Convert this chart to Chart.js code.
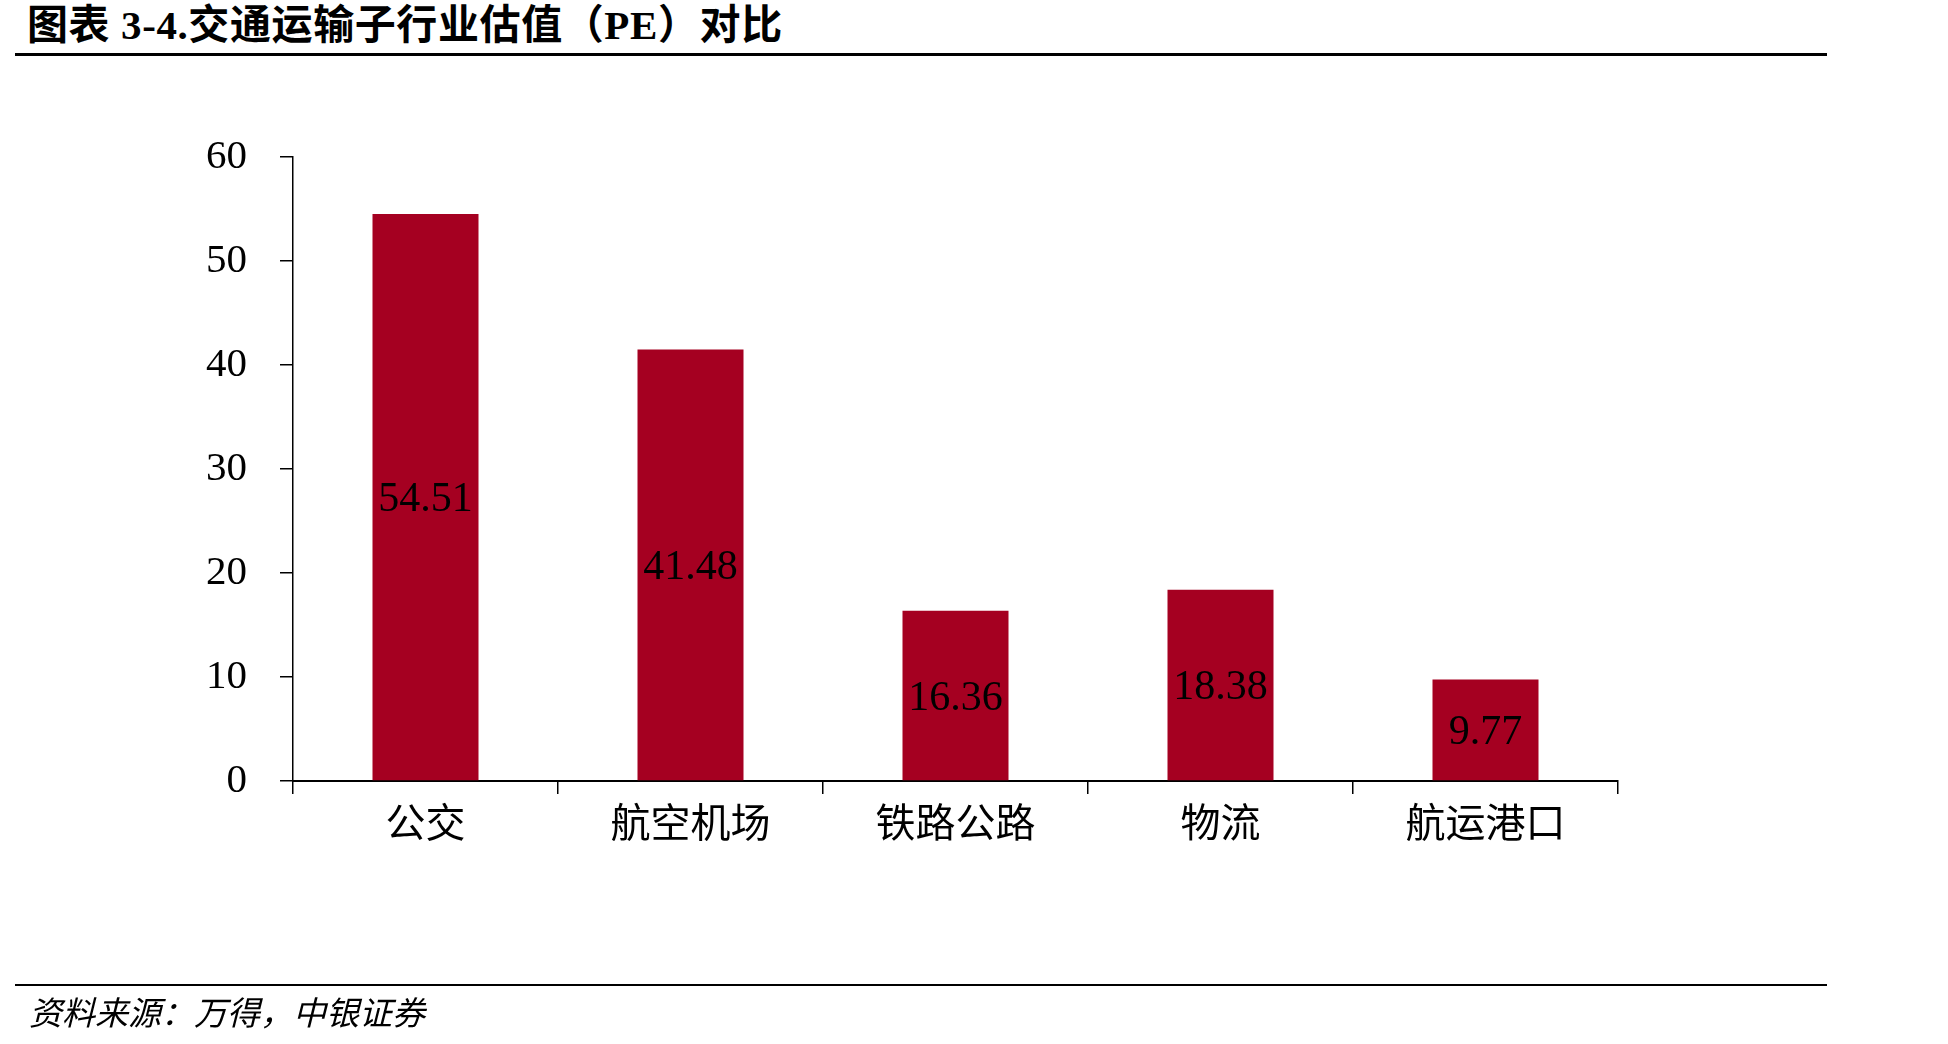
<!DOCTYPE html>
<html>
<head>
<meta charset="utf-8">
<script src="https://cdn.jsdelivr.net/npm/chart.js@4"></script>
<style>
  html, body { margin: 0; padding: 0; background: #fff; }
  body { width: 1948px; height: 1044px; position: relative; overflow: hidden; }
  .titulo {
    position: absolute; left: 27px; top: -9px;
    font: bold 41px "Liberation Serif", "Noto Sans CJK SC", serif;
    letter-spacing: 0.6px;
    color: #000; white-space: nowrap;
  }
  .linha { position: absolute; left: 15px; width: 1812px; height: 3px; background: #000; }
  .fonte {
    position: absolute; left: 29px; top: 987px;
    font: italic 33px "Liberation Serif", "Noto Sans CJK SC", serif;
    color: #000; white-space: nowrap;
  }
  #grafico { position: absolute; left: 0; top: 0; }
</style>
</head>
<body>
<div class="titulo">图表 3-4.交通运输子行业估值（PE）对比</div>
<div class="linha" style="top:53px"></div>
<canvas id="grafico" width="1948" height="1044"></canvas>
<div class="linha" style="top:984px;height:2px"></div>
<div class="fonte">资料来源：万得，中银证券</div>

<script>
const categorias = ["公交", "航空机场", "铁路公路", "物流", "航运港口"];
const valoresPE = [54.51, 41.48, 16.36, 18.38, 9.77];
const ticksY = [0, 10, 20, 30, 40, 50, 60];

// rotulos no meio de cada barra
const rotulosBarra = {
  id: "rotulosBarra",
  afterDatasetsDraw(chart) {
    const ctx = chart.ctx;
    const meta = chart.getDatasetMeta(0);
    ctx.save();
    ctx.font = '42px "Liberation Serif", serif';
    ctx.fillStyle = "#000";
    ctx.textAlign = "center";
    ctx.textBaseline = "middle";
    meta.data.forEach((barra, i) => {
      const meio = (barra.y + barra.base) / 2;
      ctx.fillText(valoresPE[i].toFixed(2), barra.x, meio + 3);
    });
    ctx.restore();
  },
};

new Chart(document.getElementById("grafico"), {
  type: "bar",
  data: {
    labels: categorias,
    datasets: [
      {
        label: "PE",
        data: valoresPE,
        backgroundColor: "#A50021",
        borderWidth: 0,
        barPercentage: 1,
        categoryPercentage: 0.4,
      },
    ],
  },
  options: {
    responsive: false,
    animation: false,
    layout: {
      padding: { left: 0, right: 330, top: 157, bottom: 203 },
    },
    plugins: {
      legend: { display: false },
      tooltip: { enabled: false },
    },
    scales: {
      x: {
        afterFit(scale) { scale.height = 60; },
        grid: {
          offset: true,
          drawOnChartArea: false,
          drawTicks: true,
          tickLength: 13,
          color: "#000",
          lineWidth: 1.5,
        },
        border: { display: true, color: "#000", width: 2 },
        ticks: {
          padding: 4,
          color: "#000",
          font: { family: '"Noto Sans CJK SC"', size: 40 },
        },
      },
      y: {
        min: 0,
        max: 60,
        afterFit(scale) { scale.width = 293; },
        afterBuildTicks(scale) { scale.ticks = ticksY.map((v) => ({ value: v })); },
        grid: {
          drawOnChartArea: false,
          drawTicks: true,
          tickLength: 13,
          color: "#000",
          lineWidth: 1.5,
        },
        border: { display: true, color: "#000", width: 1.5 },
        ticks: {
          padding: 33,
          color: "#000",
          font: { family: '"Liberation Serif"', size: 41 },
        },
      },
    },
  },
  plugins: [rotulosBarra],
});
</script>
</body>
</html>
